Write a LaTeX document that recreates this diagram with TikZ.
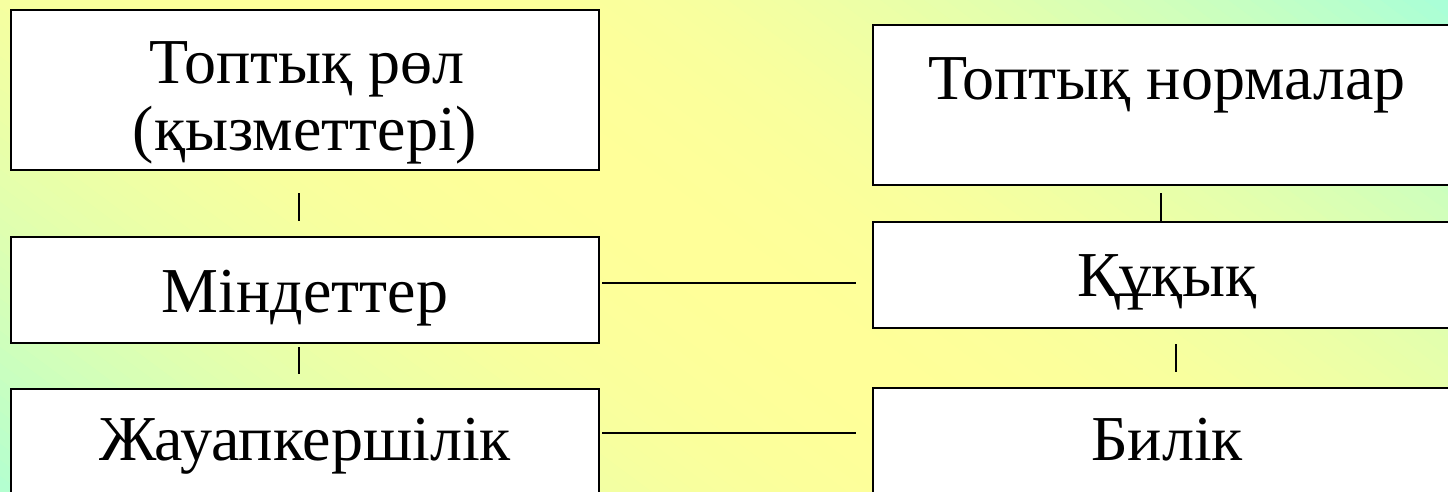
\documentclass[tikz,border=0pt]{standalone}
\usepackage{fontspec}
\setmainfont{Liberation Serif}
\usetikzlibrary{calc}
\definecolor{bgedge}{RGB}{168,255,216}
\definecolor{bgmid}{RGB}{255,255,153}
\begin{document}
\begin{tikzpicture}[x=1pt,y=-1pt,
  box/.style={draw=black,line width=2.5pt,fill=white,inner sep=0pt},
  lbl/.style={anchor=base,inner sep=0pt,font=\fontsize{64}{70}\selectfont},
  conn/.style={draw=black,line width=2.5pt}]
\useasboundingbox (0,0) rectangle (1448,491);
% background gradient (bands along iso-lines)
\begin{scope}[y=1pt]
  \clip (0,-491) rectangle (1448,0);
  \begin{scope}[cm={0.596,0.803,0.803,-0.596,(358.7pt,0pt)}]
    \foreach \i in {0,...,101}{
      \pgfmathsetmacro\gA{-1+0.02*\i}
      \pgfmathsetmacro\sA{\gA*647.7}
      \pgfmathsetmacro\sB{(\gA+0.021)*647.7}
      \pgfmathsetmacro\tm{min(100,100*(\gA+0.01)*(\gA+0.01))}
      \fill[bgedge!\tm!bgmid] (\sA,-1700) rectangle (\sB,1700);
    }
  \end{scope}
\end{scope}
% boxes
\node[box,minimum width=588pt,minimum height=160pt] (tl) at (305,90) {};
\node[box,minimum width=588pt,minimum height=106pt] (ml) at (305,290) {};
\node[box,minimum width=588pt,minimum height=131pt] (bl) at (305,454.5) {};
\node[box,minimum width=590pt,minimum height=160pt] (tr) at (1168,105) {};
\node[box,minimum width=590pt,minimum height=106pt] (mr) at (1168,275) {};
\node[box,minimum width=590pt,minimum height=132pt] (br) at (1168,454) {};
% labels
\node[lbl] (t1) at (307,83) {Топтық рөл};
\node[lbl] (t2) at (305,150) {(қызметтері)};
\node[lbl] (t3) at (305,312) {Міндеттер};
\node[lbl] (t4) at (305,460) {Жауапкершілік};
\node[lbl] (t5) at (1167,99) {Топтық нормалар};
\node[lbl] (t6) at (1167,296) {Құқық};
\node[lbl] (t7) at (1167,460) {Билік};
% connectors
\draw[conn] ($(tl.south)+(-6,22)$) -- ($(ml.north)+(-6,-15)$);
\draw[conn] ($(ml.south)+(-6,3)$) -- ($(bl.north)+(-6,-14)$);
\draw[conn] ($(tr.south)+(-7,7)$) -- ($(mr.north)+(-7,0)$);
\draw[conn] ($(mr.south)+(8,15)$) -- ($(br.north)+(8,-15)$);
\draw[conn] ($(ml.east)+(2,-7)$) -- ($(mr.west)+(-16,8)$);
\draw[conn] ($(bl.north east)+(2,45)$) -- ($(br.north west)+(-16,46)$);
\end{tikzpicture}
\end{document}
